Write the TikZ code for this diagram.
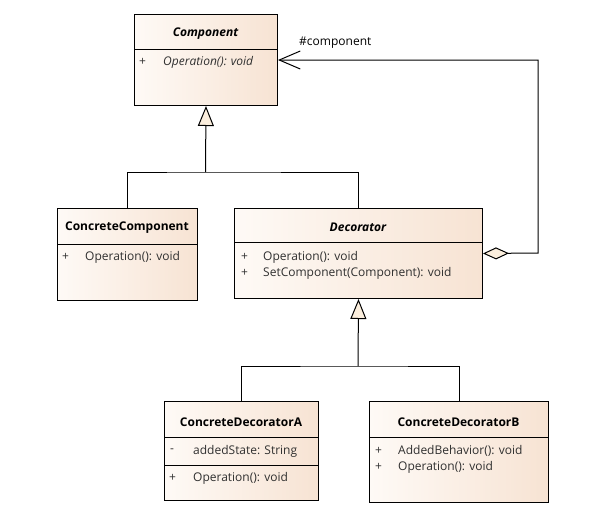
\documentclass[tikz,border=0pt]{standalone}
\usepackage{fontspec}
\setmainfont{Open Sans}
\usepackage{xcolor}
\usepackage{tikz}
\usetikzlibrary{arrows.meta}

\definecolor{boxleft}{HTML}{FEFAF6}
\definecolor{boxright}{HTML}{F7E3D3}
\definecolor{tipfill}{HTML}{FBEEDD}
\definecolor{memtext}{HTML}{303030}

\tikzset{
  classbox/.style={draw,line width=1pt,left color=boxleft,right color=boxright,inner sep=0pt,anchor=north west},
  title/.style={font=\bfseries},
  member/.style={anchor=west,inner sep=0pt,text=memtext},
  gen/.style={-{Triangle[length=20pt,width=16pt,fill=tipfill]},line width=1pt},
  agg/.style={{Diamond[length=26pt,width=12pt,fill=tipfill]}-{Straight Barb[length=21pt,width=18pt]},line width=1pt}
}

\begin{document}
\fontsize{12}{14}\selectfont
\begin{tikzpicture}[x=1pt,y=-1pt]
    \useasboundingbox (0,0) rectangle (614,512);
    % classes
    \node[classbox,minimum width=143pt,minimum height=91pt] (comp) at (134,14) {};
    \draw[line width=1pt] (134,49) -- (277,49);
    \node[title,font=\bfseries\itshape] (compname) at (205.5,34) {Component};
    \node[member] (compvis) at (139,62) {+};
    \node[member,font=\itshape] (compop) at (163,62) {Operation(): void};

    \node[classbox,minimum width=140pt,minimum height=92pt] (cc) at (57,208) {};
    \draw[line width=1pt] (57,244) -- (197,244);
    \node[title] (ccname) at (127,228) {ConcreteComponent};
    \node[member] (ccvis) at (62,257) {+};
    \node[member] (ccop) at (85,257) {Operation(): void};

    \node[classbox,minimum width=248pt,minimum height=90pt] (dec) at (234,208) {};
    \draw[line width=1pt] (234,242) -- (482,242);
    \node[title,font=\bfseries\itshape] (decname) at (358,227) {Decorator};
    \node[member] (decvis1) at (241,257) {+};
    \node[member] (decop) at (263,257) {Operation(): void};
    \node[member] (decvis2) at (241,273) {+};
    \node[member] (decset) at (263,273) {SetComponent(Component): void};

    \node[classbox,minimum width=154pt,minimum height=99pt] (cda) at (164,401) {};
    \draw[line width=1pt] (164,437) -- (318,437);
    \draw[line width=1pt] (164,465) -- (318,465);
    \node[title] (cdaname) at (241,422) {ConcreteDecoratorA};
    \node[member] (cdavis1) at (170,451) {-};
    \node[member] (cdastate) at (193,451) {addedState: String};
    \node[member] (cdavis2) at (169,478) {+};
    \node[member] (cdaop) at (193,478) {Operation(): void};

    \node[classbox,minimum width=179pt,minimum height=101pt] (cdb) at (369,401) {};
    \draw[line width=1pt] (369,437) -- (548,437);
    \node[title] (cdbname) at (458.5,422) {ConcreteDecoratorB};
    \node[member] (cdbvis1) at (375,451) {+};
    \node[member] (cdbadd) at (398,451) {AddedBehavior(): void};
    \node[member] (cdbvis2) at (375,467) {+};
    \node[member] (cdbop) at (398,467) {Operation(): void};

    % generalizations
    \coordinate (j1) at (205.5,172);
    \coordinate (j2) at (358,366);
    \draw[gen] (j1) -- (comp.south);
    \draw[line width=1pt] (cc.north) |- (j1) -| (dec.north);
    \draw[gen] (j2) -- (dec.south);
    \draw[line width=1pt] (cda.north) |- (j2) -| (cdb.north);

    % aggregation
    \draw[agg] (dec.east) -- (538,253) |- (comp.east);
    \node[anchor=west,inner sep=0pt] (rolename) at (299,43) {\#component};
\end{tikzpicture}
\end{document}
